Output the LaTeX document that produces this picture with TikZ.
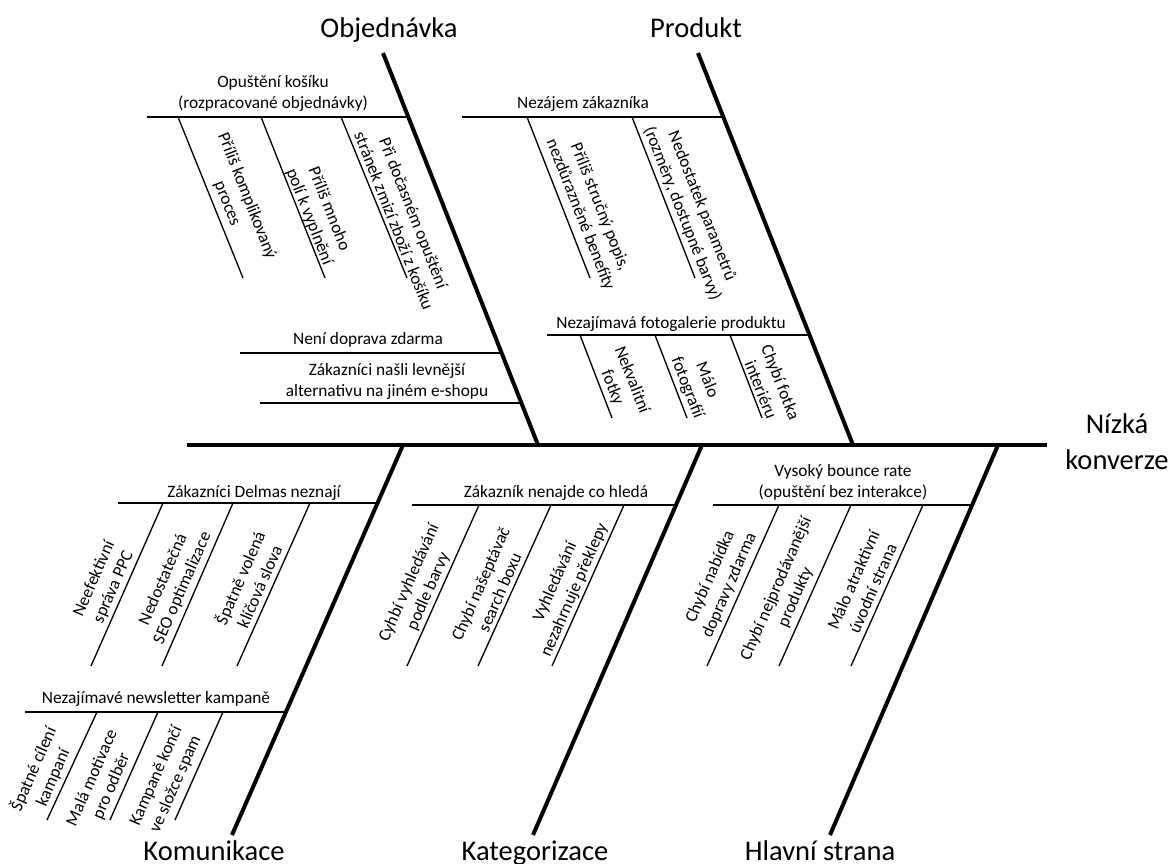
\documentclass[tikz,border=0pt]{standalone}
\usepackage{fontspec}
\setmainfont{Carlito}
\usepackage{tikz}

\begin{document}
\begin{tikzpicture}[x=0.75pt,y=0.75pt,yscale=-1,xscale=1,
  bone/.style={line width=3pt},
  rib/.style={line width=1.5pt},
  twig/.style={line width=1pt},
  head/.style={inner sep=0.75pt,font=\fontsize{21.4}{27}\selectfont,align=center},
  ribtxt/.style={inner sep=0.75pt,font=\fontsize{13}{15.8}\selectfont,align=center},
  twigdn/.style={ribtxt,rotate=-68.5},
  twigup/.style={ribtxt,rotate=66.3}]
\useasboundingbox (0,0) rectangle (1172,864);

% spine and main bones
\coordinate (spL) at (187,445);
\coordinate (spR) at (1047,445);
\coordinate (objT) at (383,53);   \coordinate (objB) at (538,445);
\coordinate (proT) at (698,53);   \coordinate (proB) at (853,445);
\coordinate (komT) at (403,445);  \coordinate (komB) at (232,835);
\coordinate (katT) at (702,445);  \coordinate (katB) at (533,835);
\coordinate (hlaT) at (998,445);  \coordinate (hlaB) at (830,835);

%Straight Lines
\draw [bone] (spL) -- (spR) ;
\draw [bone] (objT) -- (objB) ;
\draw [bone] (proT) -- (proB) ;
\draw [bone] (komT) -- (komB) ;
\draw [bone] (katT) -- (katB) ;
\draw [bone] (hlaT) -- (hlaB) ;

% Objednavka
\draw [rib] (147,117) -- (408,117) ;
\draw [twig] (178,117) -- (243,278) ;
\draw [twig] (261,117) -- (325,278) ;
\draw [twig] (341,117) -- (407,278) ;
\draw [rib] (240,353) -- (501,353) ;
\draw [rib] (260,403) -- (521,403) ;

% Produkt
\draw [rib] (462,117) -- (723,117) ;
\draw [twig] (527,117) -- (590,278) ;
\draw [twig] (632,117) -- (695,278) ;
\draw [rib] (547,335) -- (809,335) ;
\draw [twig] (580,335) -- (612,418) ;
\draw [twig] (655,335) -- (687,418) ;
\draw [twig] (730,335) -- (762,418) ;

% Komunikace
\draw [rib] (118,503) -- (377,503) ;
\draw [twig] (163,503) -- (91,666) ;
\draw [twig] (233,503) -- (162,666) ;
\draw [twig] (310,503) -- (237,666) ;
\draw [rib] (25,712) -- (286,712) ;
\draw [twig] (97,712) -- (47,820) ;
\draw [twig] (158,712) -- (110,820) ;
\draw [twig] (223,712) -- (175,820) ;

% Kategorizace
\draw [rib] (412,505) -- (676,505) ;
\draw [twig] (479,505) -- (407,666) ;
\draw [twig] (551,505) -- (478,666) ;
\draw [twig] (624,505) -- (552,666) ;

% Hlavni strana
\draw [rib] (713,505) -- (972,505) ;
\draw [twig] (779,505) -- (707,666) ;
\draw [twig] (851,505) -- (779,666) ;
\draw [twig] (923,505) -- (851,666) ;

% Text Node
\draw (389,37) node [head,anchor=base] (hdObj) {Objednávka};
\draw (696,37) node [head,anchor=base] (hdPro) {Produkt};
\draw (214,860) node [head,anchor=base] (hdKom) {Komunikace};
\draw (535,860) node [head,anchor=base] (hdKat) {Kategorizace};
\draw (820,860) node [head,anchor=base] (hdHla) {Hlavní strana};
\draw (1117,471) node [head,anchor=south] (effect) {Nízká\\konverze};

% Text Node
\draw (273,113) node [ribtxt,anchor=south] (rbKosik) {Opuštění košíku\\(rozpracované objednávky)};
\draw (368,344) node [ribtxt,anchor=base] (rbDoprava) {Není doprava zdarma};
\draw (387,401) node [ribtxt,anchor=south] (rbLevnejsi) {Zákazníci našli levnější\\alternativu na jiném e-shopu};
\draw (583,108) node [ribtxt,anchor=base] (rbNezajem) {Nezájem zákazníka};
\draw (671,328) node [ribtxt,anchor=base] (rbFoto) {Nezajímavá fotogalerie produktu};
\draw (254,497) node [ribtxt,anchor=base] (rbDelmas) {Zákazníci Delmas neznají};
\draw (156,703) node [ribtxt,anchor=base] (rbNews) {Nezajímavé newsletter kampaně};
\draw (556,497) node [ribtxt,anchor=base] (rbHleda) {Zákazník nenajde co hledá};
\draw (843,502) node [ribtxt,anchor=south] (rbBounce) {Vysoký bounce rate\\(opuštění bez interakce)};

% Text Node
\draw (237,200) node [twigdn] (twProces) {Příliš komplikovaný\\proces};
\draw (319,213) node [twigdn] (twPoli) {Příliš mnoho\\polí k vyplnění};
\draw (404,217) node [twigdn] (twZbozi) {Při dočasném opuštění\\stránek zmizí zboží z košíku};
\draw (590,211) node [twigdn] (twPopis) {Příliš stručný popis,\\nezdůrazněné benefity};
\draw (692,210) node [twigdn] (twParam) {Nedostatek parametrů\\(rozměry, dostupné barvy)};
\draw (622,384) node [twigdn] (twFotky) {Nekvalitní\\fotky};
\draw (697,384) node [twigdn] (twMalo) {Málo\\fotografií};
\draw (771,386) node [twigdn] (twInter) {Chybí fotka\\interiéru};

% Text Node
\draw (104,583) node [twigup] (twPPC) {Neefektivní\\správa PPC};
\draw (173,584) node [twigup] (twSEO) {Nedostatečná\\SEO optimalizace};
\draw (249,582) node [twigup] (twSlova) {Špatně volená\\klíčová slova};
\draw (43,773) node [twigup] (twCileni) {Špatné cílení\\kampaní};
\draw (102,782) node [twigup] (twOdber) {Malá motivace\\pro odběr};
\draw (166,780) node [twigup] (twSpam) {Kampaně končí\\ve složce spam};
\draw (419,587) node [twigup] (twBarvy) {Cyhbí vyhledávání\\podle barvy};
\draw (490,588) node [twigup] (twSearch) {Chybí našeptávač\\search boxu};
\draw (565,586) node [twigup] (twPreklepy) {Vyhledávání\\nezahrnuje překlepy};
\draw (720,581) node [twigup] (twNabidka) {Chybí nabídka\\dopravy zdarma};
\draw (786,593) node [twigup] (twProdukty) {Chybí nejprodávanější\\produkty};
\draw (863,584) node [twigup] (twUvod) {Málo atraktivní\\úvodní strana};

\end{tikzpicture}
\end{document}
